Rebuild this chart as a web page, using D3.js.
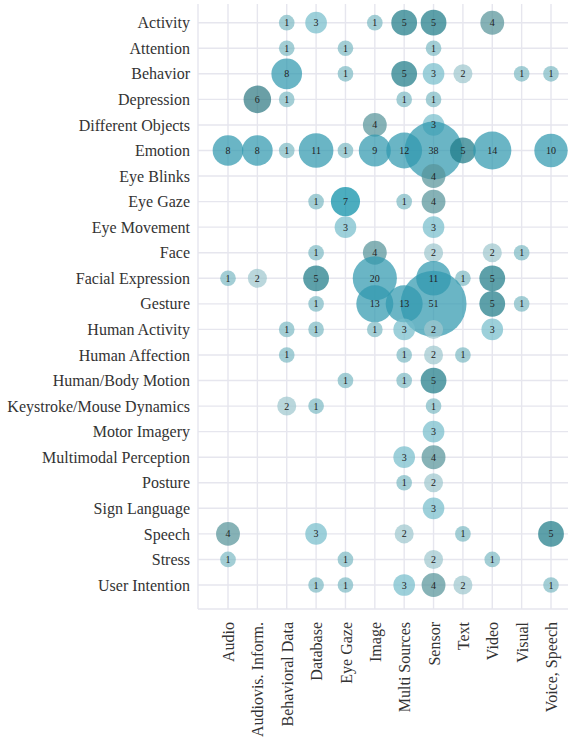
<!DOCTYPE html>
<html>
<head>
<meta charset="utf-8">
<script src="https://cdn.jsdelivr.net/npm/d3@7"></script>
<style>
  body { margin: 0; background: #fff; }
  svg text { font-family: "Liberation Serif", "Times New Roman", serif; fill: #333; }
</style>
</head>
<body>
<div id="chart"></div>
<script>
var sources = ["Audio", "Audiovis. Inform.", "Behavioral Data", "Database", "Eye Gaze", "Image",
    "Multi Sources", "Sensor", "Text", "Video", "Visual", "Voice, Speech"];

var tasks = ["Activity", "Attention", "Behavior", "Depression", "Different Objects", "Emotion",
    "Eye Blinks", "Eye Gaze", "Eye Movement", "Face", "Facial Expression", "Gesture",
    "Human Activity", "Human Affection", "Human/Body Motion", "Keystroke/Mouse Dynamics",
    "Motor Imagery", "Multimodal Perception", "Posture", "Sign Language", "Speech", "Stress",
    "User Intention"];

// counts per task, one entry per source (0 = no bubble)
var counts = [
    [0, 0, 1, 3, 0, 1, 5, 5, 0, 4, 0, 0],
    [0, 0, 1, 0, 1, 0, 0, 1, 0, 0, 0, 0],
    [0, 0, 8, 0, 1, 0, 5, 3, 2, 0, 1, 1],
    [0, 6, 1, 0, 0, 0, 1, 1, 0, 0, 0, 0],
    [0, 0, 0, 0, 0, 4, 0, 3, 0, 0, 0, 0],
    [8, 8, 1, 11, 1, 9, 12, 38, 5, 14, 0, 10],
    [0, 0, 0, 0, 0, 0, 0, 4, 0, 0, 0, 0],
    [0, 0, 0, 1, 7, 0, 1, 4, 0, 0, 0, 0],
    [0, 0, 0, 0, 3, 0, 0, 3, 0, 0, 0, 0],
    [0, 0, 0, 1, 0, 4, 0, 2, 0, 2, 1, 0],
    [1, 2, 0, 5, 0, 20, 0, 11, 1, 5, 0, 0],
    [0, 0, 0, 1, 0, 13, 13, 51, 0, 5, 1, 0],
    [0, 0, 1, 1, 0, 1, 3, 2, 0, 3, 0, 0],
    [0, 0, 1, 0, 0, 0, 1, 2, 1, 0, 0, 0],
    [0, 0, 0, 0, 1, 0, 1, 5, 0, 0, 0, 0],
    [0, 0, 2, 1, 0, 0, 0, 1, 0, 0, 0, 0],
    [0, 0, 0, 0, 0, 0, 0, 3, 0, 0, 0, 0],
    [0, 0, 0, 0, 0, 0, 3, 4, 0, 0, 0, 0],
    [0, 0, 0, 0, 0, 0, 1, 2, 0, 0, 0, 0],
    [0, 0, 0, 0, 0, 0, 0, 3, 0, 0, 0, 0],
    [4, 0, 0, 3, 0, 0, 2, 0, 1, 0, 0, 5],
    [1, 0, 0, 0, 1, 0, 0, 2, 0, 1, 0, 0],
    [0, 0, 0, 1, 1, 0, 3, 4, 2, 0, 0, 1]
];

var colorKeys = ["1", "2", "3", "4", "5", "6", "7", "8+"];
var colorVals = ["#80bbc5", "#a0c8ce", "#77becc", "#57949a", "#1f7b88", "#317a84", "#078ea6", "#3099ae"];

var W = 576, H = 746;

var svg = d3.select("#chart").append("svg")
    .attr("width", W)
    .attr("height", H);

var x = d3.scaleLinear().domain([0, sources.length - 1]).range([228, 551]);
var y = d3.scaleLinear().domain([0, tasks.length - 1]).range([22.7, 585]);
var r = d3.scaleSqrt().domain([-0.83, 51]).range([0, 33]);
var color = d3.scaleOrdinal().domain(colorKeys).range(colorVals);

var panel = { left: 198, right: 568, top: 4, bottom: 609 };
var gridColor = "#e6e6ee";

var grid = svg.append("g");
grid.selectAll(".hg").data(tasks).enter().append("line")
    .attr("x1", panel.left).attr("x2", panel.right)
    .attr("y1", (d, i) => y(i)).attr("y2", (d, i) => y(i))
    .attr("stroke", gridColor).attr("stroke-width", 1.4);
grid.selectAll(".vg").data(sources).enter().append("line")
    .attr("y1", panel.top).attr("y2", panel.bottom)
    .attr("x1", (d, i) => x(i)).attr("x2", (d, i) => x(i))
    .attr("stroke", gridColor).attr("stroke-width", 1.4);
grid.append("line")
    .attr("x1", panel.left).attr("x2", panel.left)
    .attr("y1", panel.top).attr("y2", panel.bottom)
    .attr("stroke", gridColor).attr("stroke-width", 1.4);
grid.append("line")
    .attr("x1", panel.left).attr("x2", panel.right)
    .attr("y1", panel.bottom).attr("y2", panel.bottom)
    .attr("stroke", gridColor).attr("stroke-width", 1.4);

// flatten to points
var points = [];
counts.forEach((row, i) => {
    row.forEach((v, j) => {
        if (v > 0) points.push({ task: i, source: j, value: v });
    });
});

function colorFor(v) {
    return color(v >= 8 ? "8+" : String(v));
}

svg.append("g").selectAll("circle")
    .data(points)
    .enter().append("circle")
    .attr("cx", d => x(d.source))
    .attr("cy", d => y(d.task))
    .attr("r", d => r(d.value))
    .attr("fill", d => colorFor(d.value))
    .attr("fill-opacity", 0.72);

svg.append("g").selectAll("text")
    .data(points)
    .enter().append("text")
    .attr("x", d => x(d.source))
    .attr("y", d => y(d.task))
    .attr("dy", "0.35em")
    .attr("text-anchor", "middle")
    .style("font-size", "10px")
    .style("fill", "#222")
    .text(d => d.value);

// y axis labels
var yAxis = d3.axisLeft(y)
    .tickValues(d3.range(tasks.length))
    .tickFormat(i => tasks[i])
    .tickSize(0)
    .tickPadding(8);
var gy = svg.append("g")
    .attr("transform", "translate(" + panel.left + ",0)")
    .call(yAxis);
gy.select(".domain").remove();
gy.selectAll("text")
    .style("font-family", '"Liberation Serif", serif')
    .style("font-size", "16px")
    .style("fill", "#333");

// x axis labels (rotated)
var xAxis = d3.axisBottom(x)
    .tickValues(d3.range(sources.length))
    .tickFormat(i => sources[i])
    .tickSize(0);
var gx = svg.append("g")
    .attr("transform", "translate(0," + 622 + ")")
    .call(xAxis);
gx.select(".domain").remove();
gx.selectAll("text")
    .attr("transform", "rotate(-90)")
    .attr("text-anchor", "end")
    .attr("x", 0)
    .attr("y", 0)
    .attr("dy", "0.35em")
    .style("font-family", '"Liberation Serif", serif')
    .style("font-size", "16px")
    .style("fill", "#333");
</script>
</body>
</html>
